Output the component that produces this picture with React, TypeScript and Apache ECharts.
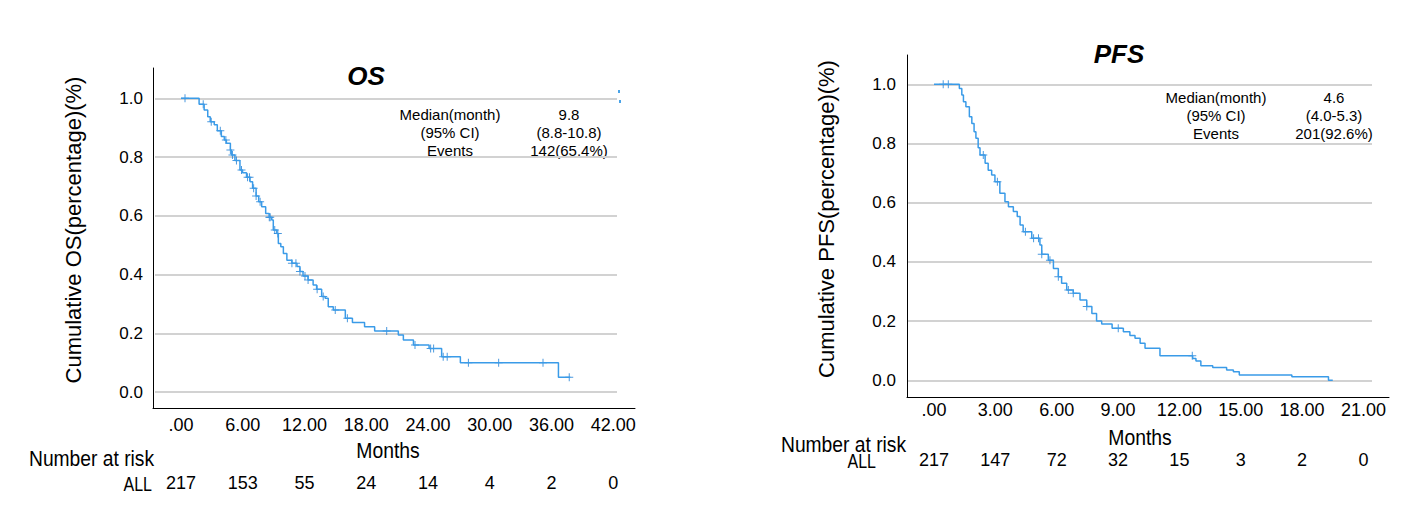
import React, { useEffect, useRef } from "react";
import * as echarts from "echarts";

// ---------- OS data ----------
const OS_TIMES = [0, 1.76, 2.25, 2.6, 2.84, 3.23, 3.53, 3.92, 4.21, 4.41, 4.8, 4.9, 5.24, 5.73, 5.98, 6.37, 6.71, 6.96, 7.3, 7.55, 7.84, 8.23, 8.57, 8.82, 8.97, 9.31, 9.46, 9.7, 9.95, 10.29, 10.78, 11.27, 11.56, 11.86, 12.35, 12.84, 13.18, 13.67, 14.01, 14.31, 14.8, 15.97, 16.66, 17.84, 18.82, 21.12, 21.61, 22.59, 24.11, 25.33, 27.15, 36.68, 37.83];
const OS_SURV = [1.0, 0.98, 0.96, 0.937, 0.92, 0.91, 0.89, 0.87, 0.858, 0.847, 0.824, 0.807, 0.788, 0.756, 0.747, 0.731, 0.716, 0.694, 0.667, 0.648, 0.631, 0.608, 0.595, 0.586, 0.552, 0.54, 0.506, 0.495, 0.472, 0.449, 0.438, 0.427, 0.41, 0.395, 0.381, 0.364, 0.35, 0.325, 0.319, 0.29, 0.279, 0.251, 0.237, 0.222, 0.208, 0.194, 0.177, 0.16, 0.148, 0.12, 0.1, 0.05, 0.05];
const OS_CENSOR = [0.39, 2.16, 2.94, 3.82, 4.36, 4.8, 5.0, 5.39, 5.88, 6.47, 6.66, 7.06, 7.3, 7.69, 8.58, 8.67, 9.11, 9.41, 10.78, 11.17, 11.56, 12.05, 12.35, 13.23, 13.82, 14.99, 16.17, 19.99, 22.74, 24.26, 24.55, 25.48, 25.87, 27.93, 30.87, 35.18, 37.73];
const OS_TICKS = [0, 6, 12, 18, 24, 30, 36, 42];
const OS_RISK = [217, 153, 55, 24, 14, 4, 2, 0];
const OS_STATS_LABELS = ["Median(month)", "(95% CI)", "Events"];
const OS_STATS_VALUES = ["9.8", "(8.8-10.8)", "142(65.4%)"];

// ---------- PFS data ----------
const PFS_TIMES = [0, 1.24, 1.36, 1.44, 1.56, 1.73, 1.85, 1.96, 2.05, 2.16, 2.25, 2.5, 2.65, 2.82, 2.98, 3.22, 3.47, 3.64, 3.88, 4.07, 4.21, 4.36, 4.78, 5.18, 5.27, 5.59, 5.84, 6.08, 6.24, 6.49, 6.81, 7.14, 7.47, 7.72, 7.95, 8.2, 8.71, 9.26, 9.58, 9.83, 10.08, 10.32, 11.05, 12.65, 12.81, 13.05, 13.63, 14.31, 14.64, 14.93, 17.5, 19.29, 19.5];
const PFS_SURV = [1.0, 0.986, 0.964, 0.941, 0.924, 0.89, 0.868, 0.84, 0.818, 0.786, 0.761, 0.733, 0.71, 0.694, 0.671, 0.632, 0.603, 0.586, 0.57, 0.553, 0.525, 0.502, 0.48, 0.457, 0.426, 0.406, 0.378, 0.35, 0.328, 0.305, 0.294, 0.271, 0.249, 0.226, 0.2, 0.19, 0.176, 0.164, 0.151, 0.142, 0.125, 0.108, 0.083, 0.074, 0.065, 0.049, 0.043, 0.035, 0.029, 0.018, 0.012, 0.0, 0.0];
const PFS_CENSOR = [0.45, 0.7, 2.41, 3.1, 4.47, 4.87, 5.11, 5.27, 5.67, 6.08, 6.57, 6.81, 7.47, 9.01, 12.63];
const PFS_TICKS = [0, 3, 6, 9, 12, 15, 18, 21];
const PFS_RISK = [217, 147, 72, 32, 15, 3, 2, 0];
const PFS_STATS_LABELS = ["Median(month)", "(95% CI)", "Events"];
const PFS_STATS_VALUES = ["4.6", "(4.0-5.3)", "201(92.6%)"];

const Y_TICK_STEP = 0.2;

const LINE_COLOR = "#3a9be8";
const MARK_COLOR = "#1e7fd6";
const GRID_COLOR = "#d2d2d2";
const ARIAL = '"Liberation Sans", Arial, sans-serif';
const PLUS = "path://M3.5,0H4.5V3.5H8V4.5H4.5V8H3.5V4.5H0V3.5H3.5Z";

function survAt(times: number[], surv: number[], t: number) {
  let s = surv[0];
  for (let i = 0; i < times.length; i++) {
    if (times[i] <= t) s = surv[i];
  }
  return s;
}

const tickFmt = (v: number) => (v === 0 ? ".00" : v.toFixed(2));

function buildPanel(cfg: any) {
  const { gi, main, gridBox, xmin, xmax, ymin, ymax, ticks, risk, times, surv, censor, tickMargin, riskOffset, yLabelMargin } = cfg;
  const grids = [
    { left: main.left, top: main.top, width: main.width, height: main.height, outerBoundsMode: "none", containLabel: false },
    { left: gridBox.left, top: gridBox.top, width: gridBox.width, height: gridBox.height, outerBoundsMode: "none", containLabel: false },
  ];
  const xAxes = [
    {
      type: "value", gridIndex: gi, min: xmin, max: xmax, position: "bottom",
      axisLine: { show: true, onZero: false, lineStyle: { color: "#000", width: 1 } },
      axisTick: { show: false },
      splitLine: { show: false },
      axisLabel: { customValues: ticks, formatter: tickFmt, margin: tickMargin, color: "#000", fontSize: 18, fontFamily: ARIAL },
    },
    {
      type: "value", gridIndex: gi, min: xmin, max: xmax, position: "bottom", offset: riskOffset,
      axisLine: { show: false, onZero: false }, axisTick: { show: false }, splitLine: { show: false },
      axisLabel: {
        customValues: ticks,
        formatter: (v: number) => String(risk[ticks.indexOf(v)]),
        margin: tickMargin, color: "#000", fontSize: 18, fontFamily: ARIAL,
      },
    },
    { type: "value", gridIndex: gi + 1, min: 0, max: 1, show: false },
  ];
  const yAxes = [
    {
      type: "value", gridIndex: gi, min: ymin, max: ymax, position: "left",
      axisLine: { show: true, onZero: false, lineStyle: { color: "#000", width: 1 } },
      axisTick: { show: false }, axisLabel: { show: false }, splitLine: { show: false },
    },
    {
      type: "value", gridIndex: gi + 1, min: 0, max: 1, interval: Y_TICK_STEP,
      axisLine: { show: false, onZero: false }, axisTick: { show: false },
      axisLabel: { formatter: (v: number) => v.toFixed(1), margin: yLabelMargin, color: "#000", fontSize: 17, fontFamily: ARIAL },
      splitLine: { show: true, lineStyle: { color: GRID_COLOR, width: 2 } },
    },
  ];
  const xi = cfg.xi;
  const yi = cfg.yi;
  const series = [
    {
      type: "line", xAxisIndex: xi, yAxisIndex: yi, step: "end", showSymbol: false, symbol: "none",
      data: times.map((t: number, i: number) => [t, surv[i]]),
      lineStyle: { color: LINE_COLOR, width: 1.5 }, silent: true,
    },
    {
      type: "scatter", xAxisIndex: xi, yAxisIndex: yi, symbol: PLUS, symbolSize: 8,
      data: censor.map((t: number) => [t, survAt(times, surv, t)]),
      itemStyle: { color: MARK_COLOR }, silent: true,
    },
  ];
  return { grids, xAxes, yAxes, series };
}

function txt(x: number, y: number, text: string, font: string, align = "center", rotation = 0, scaleX = 1) {
  return {
    type: "text", x, y, rotation, scaleX, silent: true,
    style: { text, font, textAlign: align, textVerticalAlign: "middle", fill: "#000" },
  };
}

export default function App() {
  const ref = useRef<HTMLDivElement>(null);
  useEffect(() => {
    if (!ref.current) return;
    const chart = echarts.init(ref.current, undefined, { renderer: "svg" });

    const os = buildPanel({
      gi: 0, xi: 0, yi: 0,
      main: { left: 153, top: 68, width: 482, height: 340 },
      gridBox: { left: 155, top: 98.3, width: 462, height: 293.7 },
      xmin: -2.72, xmax: 44.12, ymin: -0.0545, ymax: 1.1033,
      ticks: OS_TICKS, risk: OS_RISK, times: OS_TIMES, surv: OS_SURV, censor: OS_CENSOR,
      tickMargin: 8, riskOffset: 58, yLabelMargin: 12,
    });
    const pfs = buildPanel({
      gi: 2, xi: 3, yi: 2,
      main: { left: 907, top: 55, width: 482, height: 342 },
      gridBox: { left: 908, top: 84.3, width: 464, height: 296 },
      xmin: -1.32, xmax: 22.25, ymin: -0.0564, ymax: 1.099,
      ticks: PFS_TICKS, risk: PFS_RISK, times: PFS_TIMES, surv: PFS_SURV, censor: PFS_CENSOR,
      tickMargin: 4, riskOffset: 50, yLabelMargin: 12,
    });

    const statFont = `15px ${ARIAL}`;
    const graphic: any[] = [
      txt(366, 76, "OS", `italic bold 26px ${ARIAL}`),
      txt(1119, 54, "PFS", `italic bold 26px ${ARIAL}`),
      txt(73, 230, "Cumulative OS(percentage)(%)", `22px ${ARIAL}`, "center", Math.PI / 2),
      txt(826, 219, "Cumulative PFS(percentage)(%)", `22px ${ARIAL}`, "center", Math.PI / 2),
      txt(388, 450, "Months", `22px ${ARIAL}`, "center", 0, 0.88),
      txt(1140, 437, "Months", `22px ${ARIAL}`, "center", 0, 0.88),
      txt(29, 458, "Number at risk", `22px ${ARIAL}`, "left", 0, 0.875),
      txt(781, 444, "Number at risk", `22px ${ARIAL}`, "left", 0, 0.875),
      txt(152, 484, "ALL", `20px ${ARIAL}`, "right", 0, 0.8),
      txt(876, 461, "ALL", `20px ${ARIAL}`, "right", 0, 0.8),
      { type: "rect", shape: { x: 618, y: 90, width: 2, height: 3 }, style: { fill: "#4aa3e8" }, silent: true },
      { type: "rect", shape: { x: 619, y: 100, width: 2, height: 3 }, style: { fill: "#4aa3e8" }, silent: true },
    ];
    const osRowY = [114, 132, 150];
    OS_STATS_LABELS.forEach((s, i) => graphic.push(txt(450, osRowY[i], s, statFont)));
    OS_STATS_VALUES.forEach((s, i) => graphic.push(txt(569, osRowY[i], s, statFont)));
    const pfsRowY = [97.5, 115.5, 133.5];
    PFS_STATS_LABELS.forEach((s, i) => graphic.push(txt(1216, pfsRowY[i], s, statFont)));
    PFS_STATS_VALUES.forEach((s, i) => graphic.push(txt(1334, pfsRowY[i], s, statFont)));

    chart.setOption({
      animation: false,
      backgroundColor: "#ffffff",
      grid: [...os.grids, ...pfs.grids],
      xAxis: [...os.xAxes, ...pfs.xAxes],
      yAxis: [...os.yAxes, ...pfs.yAxes],
      series: [...os.series, ...pfs.series],
      graphic,
    });
    return () => chart.dispose();
  }, []);
  return <div ref={ref} style={{ position: "absolute", left: 0, top: 0, width: 1420, height: 517 }} />;
}
